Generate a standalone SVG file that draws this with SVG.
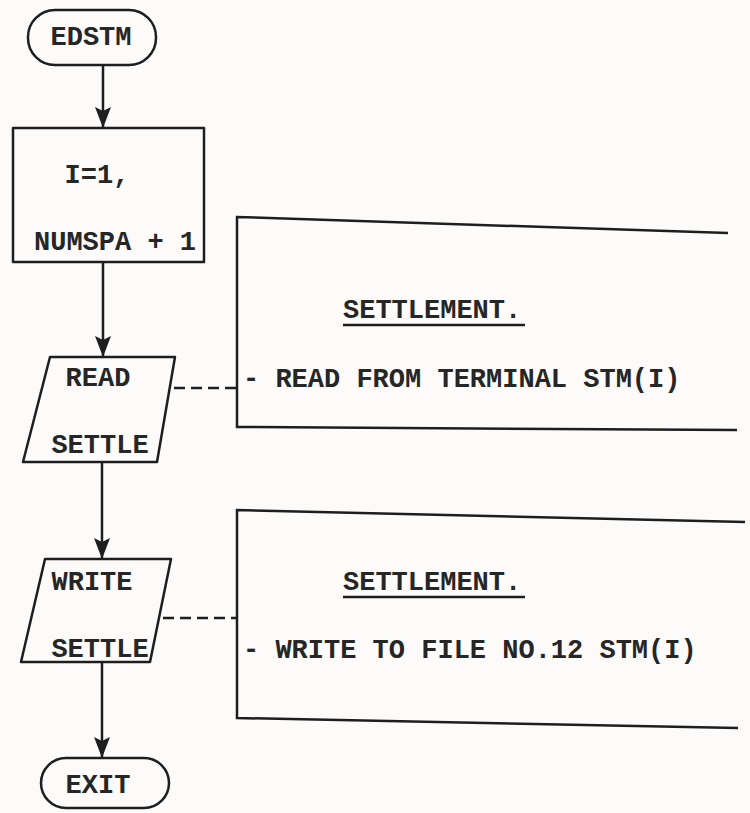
<svg xmlns="http://www.w3.org/2000/svg" width="750" height="813" viewBox="0 0 750 813">
  <defs>
    <style>
      .shape { fill: none; stroke: #1e1e1e; stroke-width: 2.5; stroke-linejoin: round; }
      .line { fill: none; stroke: #1e1e1e; stroke-width: 2.5; }
      .dash { fill: none; stroke: #1e1e1e; stroke-width: 2.6; stroke-dasharray: 11 6; }
      .head { fill: #1e1e1e; }
      .t { font-family: "Liberation Mono", "Courier New", monospace; font-size: 27px; font-weight: bold; fill: #262626; }
      .c { text-anchor: middle; }
    </style>
  </defs>
  <rect x="0" y="0" width="750" height="813" fill="#fcfbfa"/>

  <g id="connectors">
    <line class="line" x1="103" y1="65" x2="103" y2="128"/>
    <path class="head" d="M95,107 L103,111 L111,107 L103,128 Z"/>
    <line class="line" x1="103" y1="262" x2="103" y2="357"/>
    <path class="head" d="M95,336 L103,340 L111,336 L103,357 Z"/>
    <line class="line" x1="102" y1="462" x2="102" y2="559"/>
    <path class="head" d="M94,538 L102,542 L110,538 L102,559 Z"/>
    <line class="line" x1="102" y1="662" x2="102" y2="758"/>
    <path class="head" d="M94,737 L102,741 L110,737 L102,758 Z"/>
    <line class="dash" x1="174" y1="388" x2="237" y2="388"/>
    <line class="dash" x1="163" y1="618" x2="237" y2="618"/>
  </g>

  <g id="edstm">
    <rect class="shape" x="28" y="10" width="128" height="55" rx="27" ry="27"/>
    <text class="t c" x="91" y="45">EDSTM</text>
  </g>

  <g id="loop">
    <rect class="shape" x="13" y="128" width="191" height="134"/>
    <text class="t c" x="97" y="183">I=1,</text>
    <text class="t c" x="115" y="250">NUMSPA + 1</text>
  </g>

  <g id="read-settle">
    <polygon class="shape" points="50,357 175,357 157,462 23,462"/>
    <text class="t c" x="98" y="386">READ</text>
    <text class="t c" x="100" y="453">SETTLE</text>
  </g>

  <g id="write-settle">
    <polygon class="shape" points="45,559 171,559 150,662 21,662"/>
    <text class="t c" x="92" y="590">WRITE</text>
    <text class="t c" x="100" y="657">SETTLE</text>
  </g>

  <g id="exit">
    <rect class="shape" x="41" y="758" width="128" height="50" rx="25" ry="25"/>
    <text class="t c" x="98" y="793">EXIT</text>
  </g>

  <g id="note-read">
    <polyline class="line" points="728,233 237,217 237,427 737,430"/>
    <text class="t" x="343" y="318">SETTLEMENT.</text>
    <line class="line" x1="343" y1="325" x2="525" y2="325"/>
    <text class="t" x="243" y="387">- READ FROM TERMINAL STM(I)</text>
  </g>

  <g id="note-write">
    <polyline class="line" points="745,522 237,510 237,718 738,728"/>
    <text class="t" x="343" y="590">SETTLEMENT.</text>
    <line class="line" x1="343" y1="597" x2="525" y2="597"/>
    <text class="t" x="243" y="658">- WRITE TO FILE NO.12 STM(I)</text>
  </g>
</svg>
